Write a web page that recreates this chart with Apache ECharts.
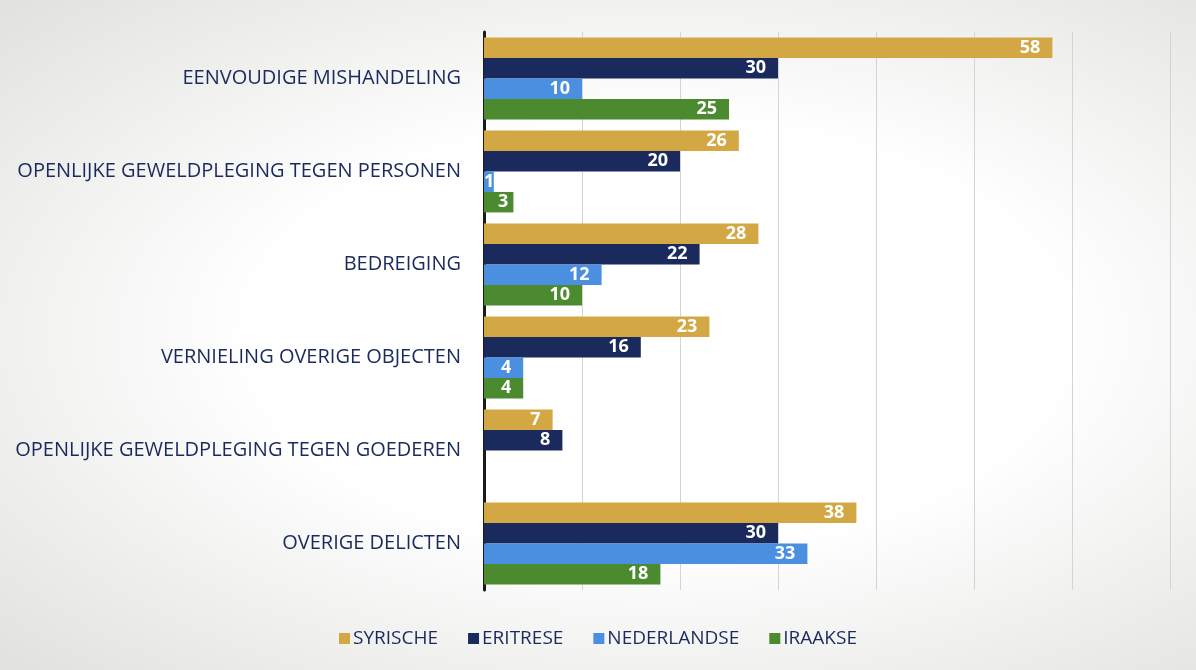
<!DOCTYPE html>
<html><head><meta charset="utf-8">
<script src="https://cdn.jsdelivr.net/npm/echarts@6/dist/echarts.min.js"></script>
<style>
html,body{margin:0;padding:0;}
body{width:1196px;height:670px;background:radial-gradient(ellipse 75% 70% at 55% 50%, #ffffff 45%, #e2e2e0 100%);}
#c{width:1196px;height:670px;}
</style></head>
<body><div id="c"></div>
<script>
const categories = ["EENVOUDIGE MISHANDELING","OPENLIJKE GEWELDPLEGING TEGEN PERSONEN","BEDREIGING","VERNIELING OVERIGE OBJECTEN","OPENLIJKE GEWELDPLEGING TEGEN GOEDEREN","OVERIGE DELICTEN"];
const seriesNames = ["SYRISCHE","ERITRESE","NEDERLANDSE","IRAAKSE"];
const syrische = [58,26,28,23,7,38];
const eritrese = [30,20,22,16,8,30];
const nederlandse = [10,1,12,4,0,33];
const iraakse = [25,3,10,4,0,18];
const colors = ["#D3A744","#1B2A5C","#4A8FE0","#4B8A2F"];
const values = [syrische, eritrese, nederlandse, iraakse];

function labelFor(v){
  if (v <= 1) return {position:'insideLeft', distance:0};
  if (v < 4) return {position:'insideRight', distance:5};
  return {};
}

const chart = echarts.init(document.getElementById('c'), null, {renderer:'canvas'});
const textColor = "#1B2A5C";
chart.setOption({
  backgroundColor:'transparent',
  animation:false,
  grid:{left:484,right:26,top:32,bottom:80,containLabel:false},
  xAxis:{type:'value',min:0,max:70,interval:10,
    axisLabel:{show:false},axisLine:{show:false},axisTick:{show:false},
    splitLine:{show:true,lineStyle:{color:'#d4d4d4',width:1}}},
  yAxis:{type:'category',data:categories,inverse:true,
    axisLine:{show:true,lineStyle:{color:'#1a1a1a',width:3}},
    axisTick:{show:false},
    axisLabel:{color:textColor,fontFamily:'Open Sans',fontWeight:500,fontSize:20,margin:23}},
  legend:{bottom:17,left:'center',itemWidth:11,itemHeight:11,itemGap:30,icon:'rect',
    textStyle:{color:textColor,fontFamily:'Open Sans',fontWeight:500,fontSize:19,padding:[0,0,0,-2]},
    data:seriesNames},
  series: seriesNames.map((n,i)=>({
    name:n,type:'bar',
    data:values[i].map(v=>({value:v,label:labelFor(v)})),
    barGap:'0%',barCategoryGap:'12%',
    itemStyle:{color:colors[i]},
    label:{show:true,position:'insideRight',distance:12,color:'#fff',fontWeight:'bold',
      fontFamily:'Open Sans',fontSize:18,formatter:p=>p.value===0?'':p.value}
  }))
});
</script></body></html>
